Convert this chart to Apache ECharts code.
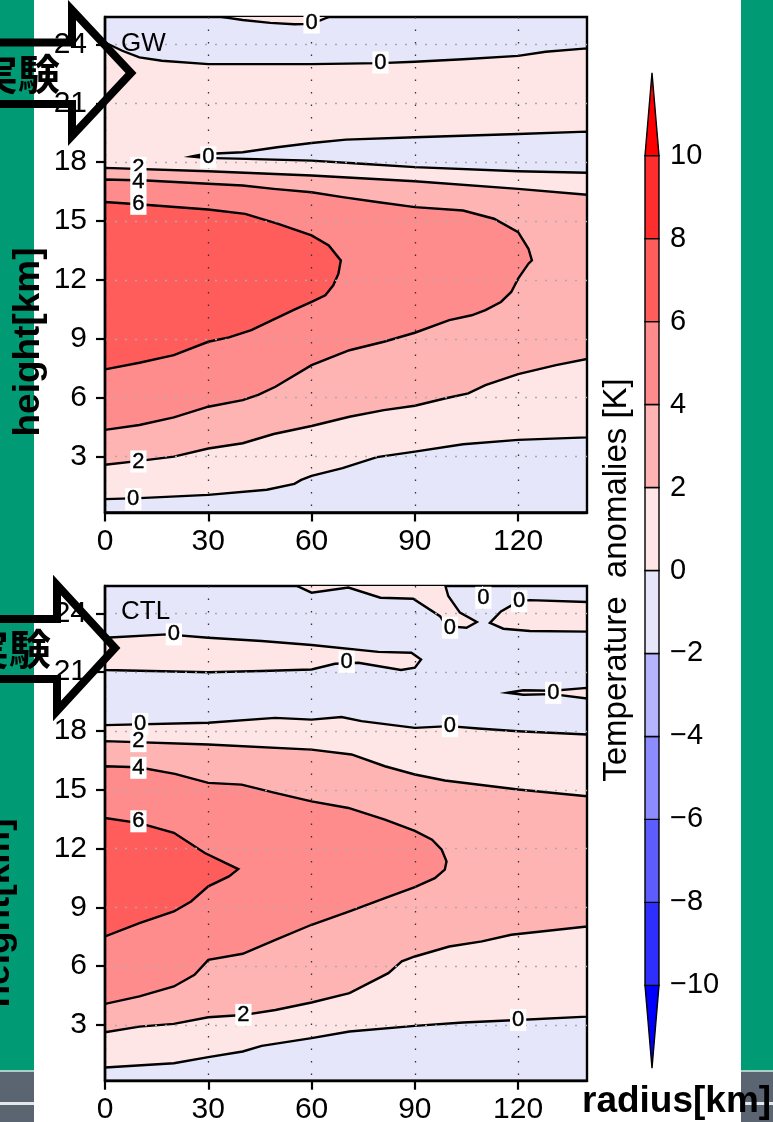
<!DOCTYPE html>
<html>
<head>
<meta charset="utf-8">
<script src="https://cdn.jsdelivr.net/npm/echarts@6.0.0/dist/echarts.min.js"></script>
<style>
html, body { margin: 0; padding: 0; background: #fff; }
#chart { width: 773px; height: 1122px; }
</style>
</head>
<body>
<div id="chart"></div>
<script>
// axes
var radiusTicks = [0, 30, 60, 90, 120];
var heightTicks = [3, 6, 9, 12, 15, 18, 21, 24];
var levels = [-10, -8, -6, -4, -2, 0, 2, 4, 6, 8, 10];
// one colour per bin: <-10, -10..-8, ..., 8..10, >10
var binColors = ['#0000ff', '#2e2eff', '#5c5cff', '#8c8cff', '#b4b4ff', '#e6e6fa',
                 '#ffe6e6', '#ffb4b4', '#ff8c8c', '#ff5c5c', '#ff2e2e', '#ff0000'];

// GW contours, [radius km, height km]
var gwZeroBottom = [[0,0.83],[10,0.88],[30,1.05],[47,1.31],[55,1.61],[57,1.81],[60,2.02],[69,2.41],[79,2.97],[90,3.25],[104,3.63],[120,3.85],[140,3.98]];
var gwZeroTop = [[0,24.1],[5,23.68],[10,23.34],[16.5,23.17],[30,23.0],[60,23.0],[80,23.05],[90,23.12],[104,23.25],[120,23.42],[128,23.63],[140,23.8]];
var gwTopSliver = [[34,26],[34,25.4],[40,25.25],[48,25.1],[55,25.03],[60,25.05],[65,25.4],[65,26]];
var gwTongueUpper = [[25.2,18.29],[29,18.42],[40,18.51],[50,18.76],[60,18.98],[70,19.15],[90,19.27],[120,19.44],[140,19.56]];
var gwTongueLower = [[25.2,18.29],[29,18.22],[41,18.17],[60,18.08],[74.5,17.92],[90,17.75],[120,17.54],[140,17.46]];
var gwTwoBottom = [[0,2.58],[10,2.78],[20,3.0],[30,3.41],[40,3.68],[49,4.15],[60,4.56],[71,5.03],[81,5.37],[90,5.59],[99,5.97],[105.5,6.22],[110.5,6.64],[120,7.2],[131,7.66],[140,7.97]];
var gwTwoTop = [[0,17.71],[30,17.54],[60,17.32],[90,17.03],[120,16.64],[140,16.34]];
var gwFourLoop = [[0,4.36],[10,4.61],[20,5.0],[30,5.54],[40,5.88],[44.5,6.14],[49.5,6.56],[60,7.66],[71,8.42],[81,8.85],[90,9.31],[100,9.95],[106.5,10.2],[110.5,10.46],[115,10.88],[118,11.39],[120,12.07],[123,12.83],[124,13.0],[123,13.59],[120,14.44],[113,15.12],[104,15.54],[90,15.71],[79,15.97],[69,16.22],[60,16.47],[49,16.64],[40,16.81],[30,16.9],[12,17.07],[0,17.12]];
var gwSixLoop = [[0,7.44],[10,7.78],[20,8.17],[30,8.85],[36,9.07],[42.5,9.44],[49.5,10.03],[55,10.49],[60,10.88],[64,11.22],[66.3,11.73],[67.8,12.32],[68.5,13.0],[68,13.1],[65,13.76],[60,14.27],[50.3,14.86],[40.7,15.37],[30,15.59],[11.6,15.83],[0,15.97]];
var gwLabels = [[60,25.12,'0'],[80,23.08,'0'],[30,18.25,'0'],[9.7,17.71,'2'],[9.7,16.98,'4'],[9.7,15.88,'6'],[9.7,2.75,'2'],[8.2,0.83,'0']];

// CTL contours
var ctlZeroBottom = [[0,0.82],[20,1.04],[30,1.35],[40,1.64],[45.5,1.93],[60,2.32],[71,2.66],[90,2.95],[104,3.12],[120,3.25],[140,3.42]];
var ctlZeroUpper = [[0,18.3],[30,18.42],[49.4,18.67],[60,18.58],[68.7,18.71],[74.5,18.5],[90,18.16],[100,18.25],[108.4,18.13],[120,17.99],[140,17.82]];
var ctlBand = [[0,22.76],[18,22.93],[30,22.76],[45.5,22.59],[60,22.39],[79.4,22.04],[89,21.99],[91.8,21.65],[90,21.23],[86,21.11],[73.6,21.48],[66.8,21.43],[60,21.14],[45.5,21.06],[30,21.0],[0,21.11]];
var ctlTopSliver = [[55.2,26],[55.2,25.45],[60,25.06],[70.7,25.32],[80,24.8],[89.5,24.75],[97.3,23.86],[99.2,23.35],[105,23.27],[108,23.56],[103.1,24.04],[99.7,24.89],[98.8,25.45],[98.8,26]];
var ctlTopTip = [[108.8,26],[109.6,24.7],[110.6,26]];
var ctlRightPatch = [[111.8,23.52],[115,24.1],[118.6,24.46],[120.5,24.63],[123.4,24.68],[140,24.58],[140,23.07],[123.4,23.1],[115.7,23.22]];
var ctlRightSliver = [[117,19.95],[121.5,20.08],[130,20.05],[140,20.2],[140,19.66],[130,19.88],[121.5,19.85]];
var ctlTwoBottom = [[0,2.62],[10,2.91],[20,3.05],[30,3.39],[40,3.5],[49.5,3.76],[60,4.14],[71,4.62],[82.3,5.64],[86.2,6.24],[90,6.49],[100,7.0],[109.5,7.26],[118,7.6],[140,8.02]];
var ctlTwoTop = [[0,17.48],[30,17.31],[60,17.05],[71.6,16.8],[81.3,16.2],[90,15.78],[98.7,15.47],[120,15.01],[140,14.67]];
var ctlFourLoop = [[0,4.07],[10,4.45],[20,4.96],[26,5.55],[30,6.32],[40,6.63],[49.5,7.34],[60,8.11],[71,8.79],[81.3,9.47],[90,10.03],[95.8,10.49],[98.7,10.92],[99.2,11.35],[97.8,11.94],[95,12.45],[90,12.9],[81.3,13.48],[70.7,14.07],[60,14.41],[49.4,14.84],[39.7,15.26],[30,15.35],[20.3,15.81],[9.7,16.15],[0,16.2]];
var ctlSixLoop = [[0,7.51],[10,8.19],[20,8.79],[25,9.3],[30,10.07],[36,10.58],[38.7,10.95],[29,11.77],[20,12.8],[10,13.3],[0,13.56]];
var ctlLabels = [[20,22.93,'0'],[70.2,21.53,'0'],[100.2,23.27,'0'],[109.9,24.8,'0'],[120.3,24.63,'0'],[130.2,19.95,'0'],[10.2,18.36,'0'],[100.2,18.25,'0'],[9.7,17.48,'2'],[9.7,16.12,'4'],[9.7,13.39,'6'],[40.2,3.51,'2'],[120,3.25,'0']];

function rev(a) { return a.slice().reverse(); }

var gwShapes = [
  { pts: gwZeroBottom.concat(rev(gwZeroTop)), bin: 6 },
  { pts: gwTopSliver, bin: 6 },
  { pts: gwTongueUpper.concat(rev(gwTongueLower)), bin: 5 },
  { pts: gwTwoBottom.concat(rev(gwTwoTop)), bin: 7 },
  { pts: gwFourLoop, bin: 8 },
  { pts: gwSixLoop, bin: 9 }
];
var ctlShapes = [
  { pts: ctlZeroBottom.concat(rev(ctlZeroUpper)), bin: 6 },
  { pts: ctlBand, bin: 6 },
  { pts: ctlTopSliver, bin: 6 },
  { pts: ctlTopTip, bin: 6 },
  { pts: ctlRightPatch, bin: 6 },
  { pts: ctlRightSliver, bin: 6 },
  { pts: ctlTwoBottom.concat(rev(ctlTwoTop)), bin: 7 },
  { pts: ctlFourLoop, bin: 8 },
  { pts: ctlSixLoop, bin: 9 }
];

var font = 'Liberation Sans';

function contourSeries(idx, shapes) {
  return {
    type: 'custom',
    xAxisIndex: idx, yAxisIndex: idx,
    clip: true, silent: true, z: 2,
    data: shapes.map(function (s, i) { return [70, 12, i]; }),
    renderItem: function (params, api) {
      var s = shapes[params.dataIndex];
      return {
        type: 'polygon',
        shape: { points: s.pts.map(function (p) { return api.coord(p); }) },
        style: { fill: binColors[s.bin], stroke: '#000', lineWidth: 2.4 }
      };
    }
  };
}

// contour labels: white-boxed digits sitting on the lines
function labelSeries(idx, labels) {
  return {
    type: 'custom',
    xAxisIndex: idx, yAxisIndex: idx,
    clip: false, silent: true, z: 5,
    data: labels.map(function (l, i) { return [l[0], l[1], i]; }),
    renderItem: function (params, api) {
      var l = labels[params.dataIndex];
      var p = api.coord([l[0], l[1]]);
      return {
        type: 'text', x: p[0], y: p[1],
        style: {
          text: l[2], font: '22px "Liberation Sans"', fill: '#000',
          stroke: '#000', lineWidth: 0.4,
          align: 'center', verticalAlign: 'middle',
          backgroundColor: '#fff', padding: [0, 2]
        }
      };
    }
  };
}

function xAxisFor(idx) {
  return {
    type: 'value', gridIndex: idx, min: 0, max: 140, interval: 30, z: 3,
    axisLine: { show: true, lineStyle: { color: '#000', width: 2.4 } },
    axisTick: { show: true, length: 9, customValues: radiusTicks, lineStyle: { color: '#000', width: 2.2 } },
    axisLabel: { margin: 14, customValues: radiusTicks, fontFamily: font, fontSize: 30, color: '#000' },
    splitLine: { show: true, lineStyle: { color: '#333', width: 1.3, type: [1.5, 11] } }
  };
}
function yAxisFor(idx) {
  return {
    type: 'value', gridIndex: idx, min: 0.15, max: 25.4, z: 3,
    axisLine: { show: true, lineStyle: { color: '#000', width: 2.4 } },
    axisTick: { show: true, length: 9, customValues: heightTicks, lineStyle: { color: '#000', width: 2.2 } },
    axisLabel: { margin: 18, customValues: heightTicks, fontFamily: font, fontSize: 30, color: '#000' },
    splitLine: { show: true, lineStyle: { color: '#aaa', width: 1.3, type: [2, 8] } }
  };
}

var gridStyle = { show: true, borderColor: '#000', borderWidth: 2.4, backgroundColor: binColors[5], outerBoundsMode: 'none', containLabel: false };

var green = '#009a74';
var slate = '#5b6571';

var option = {
  animation: false,
  backgroundColor: '#fff',
  grid: [
    Object.assign({ left: 105, top: 17, width: 482, height: 495.5 }, gridStyle),
    Object.assign({ left: 105, top: 586, width: 482, height: 494.7 }, gridStyle),
    { left: 645, top: 72.7, width: 14, height: 995.6, show: false, outerBoundsMode: 'none', containLabel: false }
  ],
  xAxis: [
    xAxisFor(0), xAxisFor(1),
    { type: 'value', gridIndex: 2, min: 0, max: 1, show: false }
  ],
  yAxis: [
    yAxisFor(0), yAxisFor(1),
    {
      type: 'value', gridIndex: 2, min: -12, max: 12, interval: 2, position: 'right',
      axisLine: { show: false }, axisTick: { show: false }, splitLine: { show: false },
      axisLabel: {
        margin: 11, fontFamily: font, fontSize: 29, color: '#000',
        formatter: function (v) {
          if (Math.abs(v) > 10) return '';
          return v < 0 ? '\u2212' + (-v) : String(v);
        }
      }
    }
  ],
  series: [
    contourSeries(0, gwShapes),
    contourSeries(1, ctlShapes),
    labelSeries(0, gwLabels),
    labelSeries(1, ctlLabels),
    {
      type: 'custom', xAxisIndex: 2, yAxisIndex: 2, clip: false, silent: true,
      data: binColors.map(function (c, i) { return [0.5, 0, i]; }),
      renderItem: function (params, api) {
        var i = params.dataIndex;
        var style = { fill: binColors[i], stroke: '#000', lineWidth: 1.4 };
        if (i === 0 || i === binColors.length - 1) {
          var base = i === 0 ? levels[0] : levels[levels.length - 1];
          var tip = i === 0 ? base - 2 : base + 2;
          return { type: 'polygon', shape: { points: [api.coord([0, base]), api.coord([1, base]), api.coord([0.5, tip])] }, style: style };
        }
        var a = api.coord([0, levels[i]]);
        var b = api.coord([1, levels[i - 1]]);
        return { type: 'rect', shape: { x: a[0], y: a[1], width: b[0] - a[0], height: b[1] - a[1] }, style: style };
      }
    }
  ],
  graphic: [
    { type: 'rect', shape: { x: 0, y: 0, width: 34, height: 1070 }, style: { fill: green } },
    { type: 'rect', shape: { x: 741, y: 0, width: 32, height: 1070 }, style: { fill: green } },
    { type: 'rect', shape: { x: 0, y: 1070, width: 34, height: 52 }, style: { fill: slate } },
    { type: 'rect', shape: { x: 741, y: 1070, width: 32, height: 52 }, style: { fill: slate } },
    { type: 'rect', shape: { x: 0, y: 1070, width: 34, height: 2 }, style: { fill: '#a9cfc4' } },
    { type: 'rect', shape: { x: 741, y: 1070, width: 32, height: 2 }, style: { fill: '#a9cfc4' } },
    { type: 'rect', shape: { x: 0, y: 1102, width: 34, height: 3 }, style: { fill: '#e4e8ec' } },
    { type: 'rect', shape: { x: 741, y: 1102, width: 32, height: 3 }, style: { fill: '#e4e8ec' } },
    { type: 'text', x: 121, y: 43.5, z: 50, style: { text: 'GW', fontFamily: font, fontSize: 26, fill: '#000', align: 'left', verticalAlign: 'middle' } },
    { type: 'text', x: 121, y: 611.5, z: 50, style: { text: 'CTL', fontFamily: font, fontSize: 26, fill: '#000', align: 'left', verticalAlign: 'middle' } },
    { type: 'text', x: 617, y: 580, rotation: Math.PI / 2, z: 50, style: { text: 'Temperature  anomalies [K]', fontFamily: font, fontSize: 33, fill: '#000', align: 'center', verticalAlign: 'middle' } },
    { type: 'text', x: 28.5, y: 342, rotation: Math.PI / 2, z: 60, style: { text: 'height[km]', fontFamily: font, fontWeight: 'bold', fontSize: 37, fill: '#000', align: 'center', verticalAlign: 'middle' } },
    { type: 'text', x: -1, y: 913, rotation: Math.PI / 2, z: 60, style: { text: 'height[km]', fontFamily: font, fontWeight: 'bold', fontSize: 37, fill: '#000', align: 'center', verticalAlign: 'middle' } },
    { type: 'text', x: 582, y: 1102, z: 60, style: { text: 'radius[km]', fontFamily: font, fontWeight: 'bold', fontSize: 37, fill: '#000', align: 'left', verticalAlign: 'middle' } },
    { type: 'polygon', z: 70, shape: { points: [[-20, 42.5], [72, 42.5], [72, 10], [131, 73], [72, 136], [72, 104], [-20, 104]] }, style: { fill: 'none', stroke: '#000', lineWidth: 8, lineJoin: 'miter' } },
    { type: 'polygon', z: 70, shape: { points: [[-20, 619], [57, 619], [57, 585], [115, 648], [57, 711], [57, 679], [-20, 679]] }, style: { fill: 'none', stroke: '#000', lineWidth: 8, lineJoin: 'miter' } },
    { type: 'text', x: 18, y: 74, z: 71, style: { text: '実験', fontFamily: 'Noto Sans CJK JP', fontWeight: 'bold', fontSize: 42, fill: '#000', align: 'center', verticalAlign: 'middle' } },
    { type: 'text', x: 9, y: 649, z: 71, style: { text: '実験', fontFamily: 'Noto Sans CJK JP', fontWeight: 'bold', fontSize: 42, fill: '#000', align: 'center', verticalAlign: 'middle' } }
  ]
};

var chart = echarts.init(document.getElementById('chart'));
chart.setOption(option);
</script>
</body>
</html>
